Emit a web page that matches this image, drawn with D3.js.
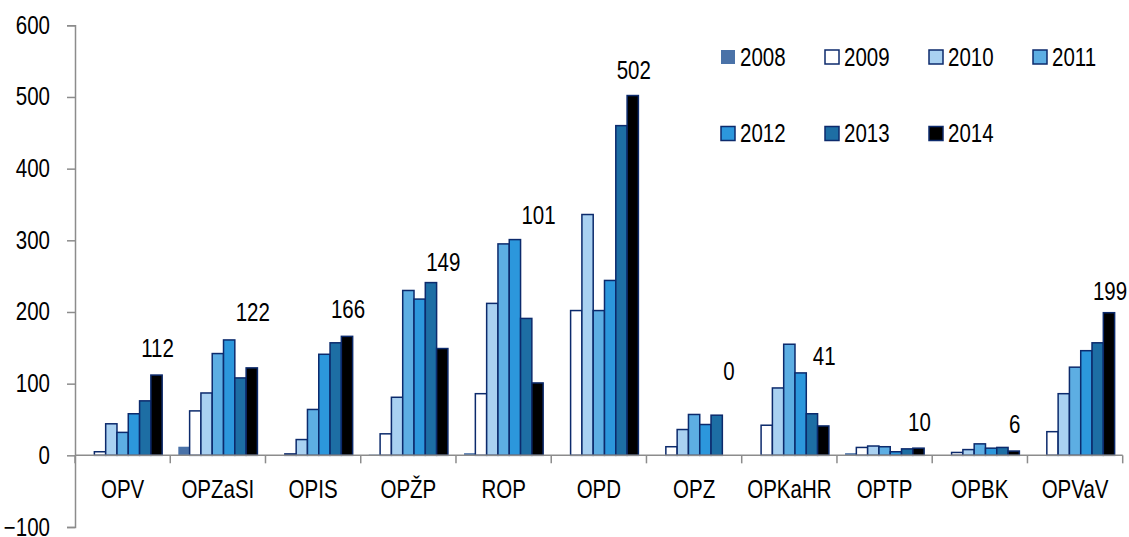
<!DOCTYPE html>
<html>
<head>
<meta charset="utf-8">
<script src="https://cdn.jsdelivr.net/npm/d3@7"></script>
<style>
  body { margin: 0; background: #fff; }
  text { font-family: "Liberation Sans", Arial, sans-serif; fill: #000; font-size: 25px; }
</style>
</head>
<body>
<svg class="chart" width="1129" height="537"></svg>
<script>
var categories = ['OPV', 'OPZaSI', 'OPIS', 'OPŽP', 'ROP', 'OPD', 'OPZ', 'OPKaHR', 'OPTP', 'OPBK', 'OPVaV'];
var years = ['2008', '2009', '2010', '2011', '2012', '2013', '2014'];

// one array per year, in category order
var v2008 = [0, 12, 0, 1, 3, 0, 0, 0, 3, 0, 0];
var v2009 = [5, 62, 2, 30, 86, 202, 12, 42, 11, 4, 33];
var v2010 = [44, 87, 22, 81, 212, 336, 36, 94, 13, 8, 86];
var v2011 = [32, 142, 64, 230, 295, 202, 57, 155, 12, 16, 123];
var v2012 = [58, 161, 141, 218, 301, 244, 43, 115, 5, 10, 146];
var v2013 = [76, 108, 157, 241, 191, 460, 56, 58, 9, 11, 157];
var v2014 = [112, 122, 166, 149, 101, 502, 0, 41, 10, 6, 199];

// the printed labels and the value height where each one sits
var labelText = ['112', '122', '166', '149', '101', '502', '0', '41', '10', '6', '199'];
var labelAt = [149, 199, 204, 269, 335, 537, 117, 138, 46, 43, 229];

var yTicks = [-100, 0, 100, 200, 300, 400, 500, 600];

var seriesValues = [v2008, v2009, v2010, v2011, v2012, v2013, v2014];
var fills = ['#4a72a8', '#ffffff', '#a9d1f1', '#5daee3', '#2c97dc', '#1d6ea4', '#000000'];
var edge = '#0c2a6c';
var narrow = 0.82; // no Arial Narrow here, so squeeze Liberation Sans

var svg = d3.select('.chart');

function squeeze(px, py) {
    return 'translate(' + px + ',' + py + ') scale(' + narrow + ',1)';
}

var x = d3.scaleBand()
    .domain(categories)
    .range([75, 1122.7])
    .paddingInner(0)
    .paddingOuter(0);

var xYear = d3.scaleBand()
    .domain(years)
    .range([0, x.bandwidth()])
    .paddingInner(0)
    .paddingOuter(0.715);

var y = d3.scaleLinear()
    .domain([-100, 600])
    .range([527, 25.3]);

// y axis
var yAxis = d3.axisLeft(y)
    .tickValues(yTicks)
    .tickSize(8)
    .tickFormat(d3.format('d'));

var gy = svg.append('g')
    .attr('transform', 'translate(75,0)')
    .call(yAxis);
gy.attr('font-size', null).attr('font-family', null);
gy.select('.domain').attr('stroke', '#8c8c8c').attr('stroke-width', 1.5);
gy.selectAll('.tick line').attr('stroke', '#8c8c8c').attr('stroke-width', 1.5);
gy.selectAll('.tick text')
    .attr('x', 0)
    .attr('fill', '#000')
    .attr('transform', squeeze(-25, 0));

// bars
var groups = svg.append('g').selectAll('g')
    .data(years)
    .enter().append('g');

groups.selectAll('rect')
    .data(function(yr, si) {
        return categories.map(function(c, ci) {
            return { cat: c, year: yr, si: si, value: seriesValues[si][ci] };
        });
    })
    .enter().append('rect')
    .attr('x', function(d) { return x(d.cat) + xYear(d.year); })
    .attr('width', xYear.bandwidth())
    .attr('y', function(d) { return y(Math.max(0, d.value)); })
    .attr('height', function(d) { return Math.abs(y(d.value) - y(0)); })
    .attr('fill', function(d) { return fills[d.si]; })
    .attr('stroke', function(d) { return d.si === 0 ? 'none' : (d.value === 0 ? '#a0a0a0' : edge); })
    .attr('stroke-width', 1.5);

// x axis on the zero line, ticks between categories
var bounds = categories.map(function(c) { return x(c); }).concat([x.range()[1]]);
var gx = svg.append('g');
gx.append('line')
    .attr('x1', x.range()[0]).attr('x2', x.range()[1])
    .attr('y1', y(0)).attr('y2', y(0))
    .attr('stroke', '#8c8c8c').attr('stroke-width', 1.5);
gx.selectAll('.xt')
    .data(bounds)
    .enter().append('line')
    .attr('class', 'xt')
    .attr('x1', function(d) { return d; }).attr('x2', function(d) { return d; })
    .attr('y1', y(0)).attr('y2', y(0) + 8)
    .attr('stroke', '#8c8c8c').attr('stroke-width', 1.5);

gx.selectAll('.cat')
    .data(categories)
    .enter().append('text')
    .attr('class', 'cat')
    .attr('transform', function(d) { return squeeze(x(d) + x.bandwidth() / 2, y(0) + 43); })
    .attr('text-anchor', 'middle')
    .text(function(d) { return d; });

// value labels over the 2014 bars
svg.append('g').selectAll('text')
    .data(categories)
    .enter().append('text')
    .attr('transform', function(d, i) {
        return squeeze(x(d) + xYear('2014') + xYear.bandwidth() / 2 + 1, y(labelAt[i]));
    })
    .attr('dy', '0.35em')
    .attr('text-anchor', 'middle')
    .text(function(d, i) { return labelText[i]; });

// legend
var legend = svg.append('g').selectAll('g')
    .data(years)
    .enter().append('g')
    .attr('transform', function(d, i) {
        var col = i % 4, row = Math.floor(i / 4);
        return 'translate(' + (721 + col * 104) + ',' + (57 + row * 76.5) + ')';
    });

legend.append('rect')
    .attr('x', 0).attr('y', -7)
    .attr('width', 14).attr('height', 14)
    .attr('fill', function(d, i) { return fills[i]; })
    .attr('stroke', function(d, i) { return i === 0 ? 'none' : edge; })
    .attr('stroke-width', 1.5);

legend.append('text')
    .attr('transform', squeeze(19, 0))
    .attr('dy', '0.35em')
    .text(function(d) { return d; });
</script>
</body>
</html>
